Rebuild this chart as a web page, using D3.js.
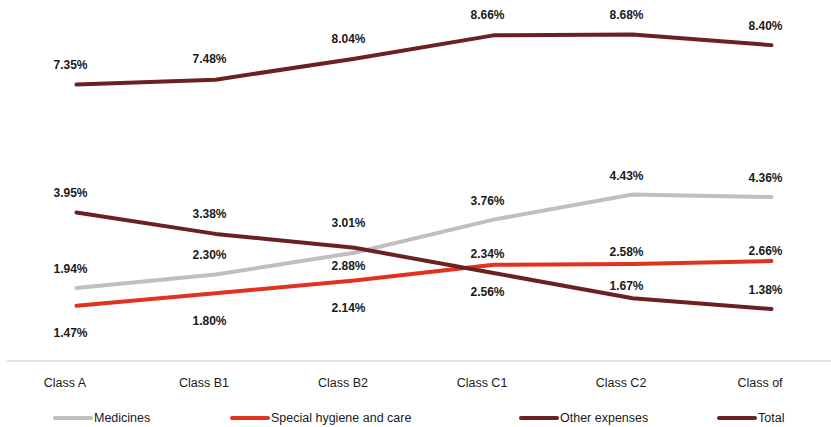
<!DOCTYPE html>
<html>
<head>
<meta charset="utf-8">
<script src="https://cdn.jsdelivr.net/npm/d3@7"></script>
<style>
  html, body { margin: 0; padding: 0; background: #fff; }
  svg { display: block; font-family: "Liberation Sans", Arial, sans-serif; }
</style>
</head>
<body>
<svg id="chart" width="831" height="427"></svg>
<script>
// ---- data ----
const categories = ["Class A", "Class B1", "Class B2", "Class C1", "Class C2", "Class of"];
const seriesNames = ["Medicines", "Special hygiene and care", "Other expenses", "Total"];
const medicines = [1.94, 2.30, 2.88, 3.76, 4.43, 4.36];
const hygiene   = [1.47, 1.80, 2.14, 2.56, 2.58, 2.66];
const other     = [3.95, 3.38, 3.01, 2.34, 1.67, 1.38];
const total     = [7.35, 7.48, 8.04, 8.66, 8.68, 8.40];

// ---- styling / layout ----
const colors = ["#BFBFBF", "#E0321F", "#6B2121", "#6B2121"];
// vertical nudge of each value label relative to its point (px)
const labelShift = [
  [-19, -20, 13, -19, -19, -19],
  [27, 27, 27, 27, -12, -10],
  [-20, -20, -25, -19, -12, -19],
  [-20, -21, -20, -21, -20, -19]
];

const series = [medicines, hygiene, other, total].map((values, i) => ({
  name: seriesNames[i], values, color: colors[i], shift: labelShift[i]
}));

const svg = d3.select("#chart");

const x = d3.scalePoint().domain(categories).range([76.5, 771.5]);
const y = d3.scaleLinear().domain([0, 9.6]).range([361, 0]);

// baseline axis
svg.append("line")
  .attr("x1", 7).attr("x2", 831)
  .attr("y1", y(0)).attr("y2", y(0))
  .attr("stroke", "#D9D9D9").attr("stroke-width", 1.5);

// category labels
const xAxis = d3.axisBottom(x).tickSize(0).tickPadding(0);
const gx = svg.append("g").attr("transform", `translate(-12,${y(0)})`).call(xAxis);
gx.select(".domain").remove();
gx.selectAll("text")
  .attr("y", 22).attr("dy", "0.35em")
  .attr("font-size", 12.5)
  .attr("font-family", "Liberation Sans, Arial, sans-serif")
  .attr("fill", "#1a1a1a");

const line = d3.line()
  .x((d, i) => x(categories[i]))
  .y(d => y(d));

// lines
svg.append("g").selectAll("path")
  .data(series)
  .join("path")
  .attr("d", s => line(s.values))
  .attr("fill", "none")
  .attr("stroke", s => s.color)
  .attr("stroke-width", 4)
  .attr("stroke-linejoin", "round")
  .attr("stroke-linecap", "round");

// value labels
const labels = svg.append("g");
series.forEach(s => {
  labels.selectAll(null)
    .data(s.values)
    .join("text")
    .attr("x", (d, i) => x(categories[i]) - 6)
    .attr("y", (d, i) => y(d) + s.shift[i])
    .attr("dy", "0.35em")
    .attr("text-anchor", "middle")
    .attr("font-size", 12)
    .attr("font-weight", "bold")
    .attr("fill", "#1a1a1a")
    .text(d => d.toFixed(2) + "%");
});

// legend
const legendX = [53, 230, 519, 717];
const legend = svg.append("g").attr("transform", "translate(0,418)");
series.forEach((s, i) => {
  const g = legend.append("g").attr("transform", `translate(${legendX[i]},0)`);
  g.append("line")
    .attr("x1", 2).attr("x2", 38)
    .attr("stroke", s.color).attr("stroke-width", 4)
    .attr("stroke-linecap", "round");
  g.append("text")
    .attr("x", 41).attr("dy", "0.35em")
    .attr("font-size", 12.5)
    .attr("fill", "#1a1a1a")
    .text(s.name);
});
</script>
</body>
</html>
